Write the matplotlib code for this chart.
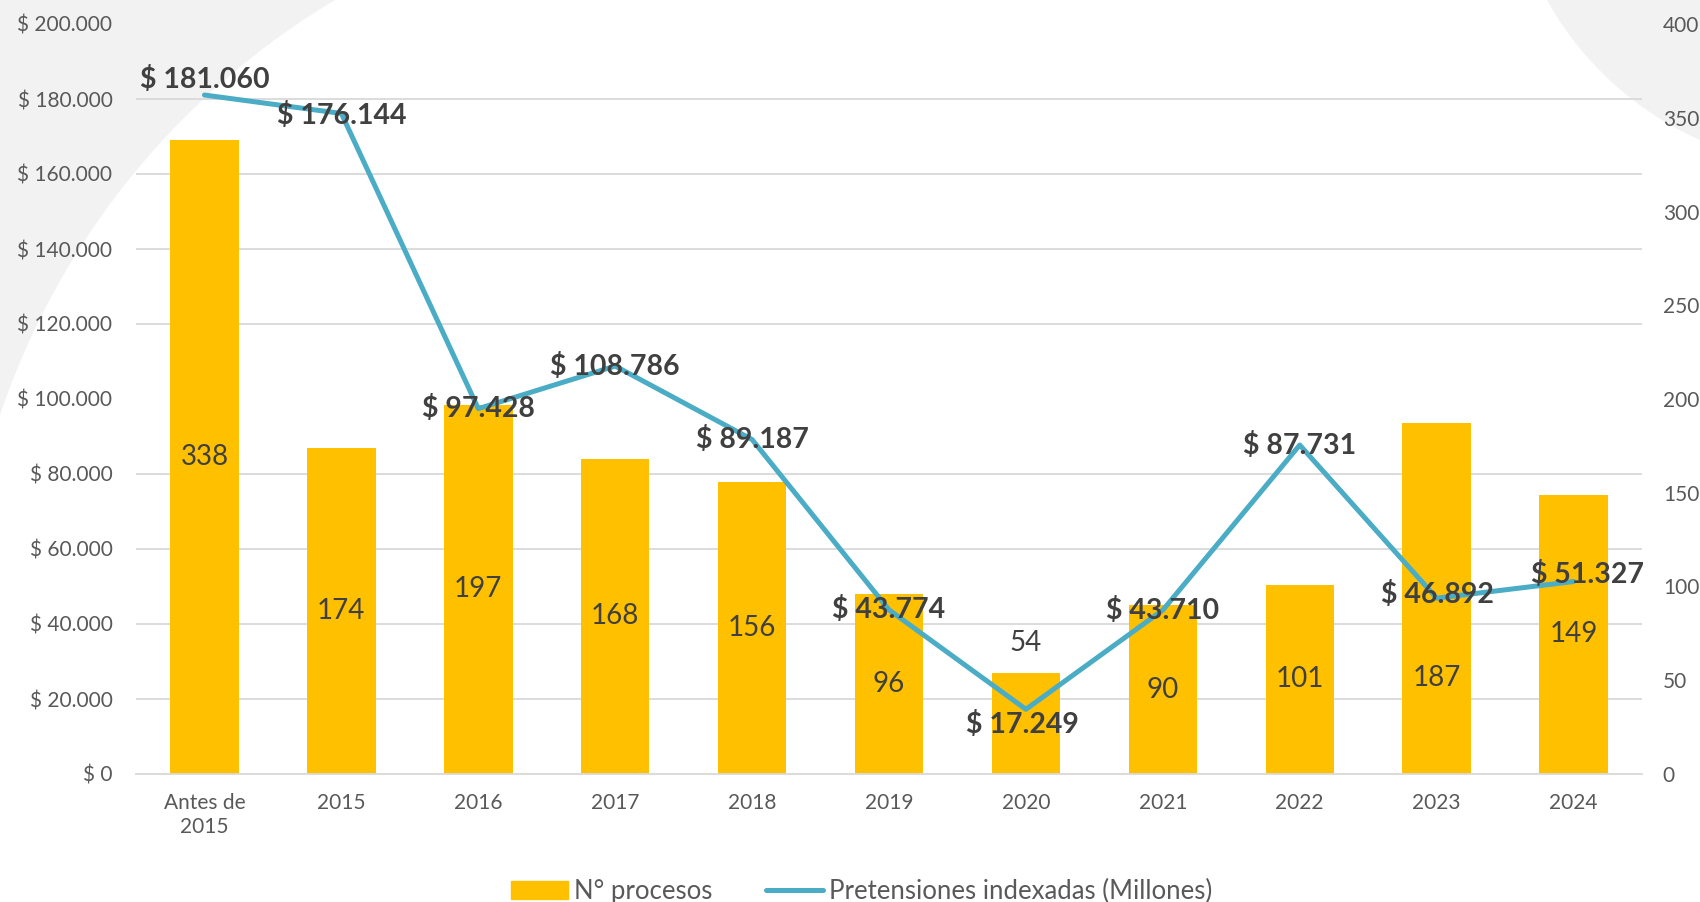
import numpy as np
import matplotlib.pyplot as plt
from matplotlib.patches import Polygon
from matplotlib.ticker import MultipleLocator, FuncFormatter

plt.rcParams['font.family'] = ['Lato', 'DejaVu Sans']

categories = ['Antes de\n2015', '2015', '2016', '2017', '2018', '2019',
              '2020', '2021', '2022', '2023', '2024']
procesos = [338, 174, 197, 168, 156, 96, 54, 90, 101, 187, 149]
pretensiones = [181060, 176144, 97428, 108786, 89187, 43774,
                17249, 43710, 87731, 46892, 51327]

BAR = '#ffc000'
LINE = '#4bacc6'
TXT = '#404040'
TICK = '#595959'
GRID = '#d9d9d9'
BG = '#f2f2f2'

W, H = 1700, 902
fig = plt.figure(figsize=(W / 100, H / 100), dpi=100)


def arc(p1, p2, p3, n=60):
    # circle arc through three pixel points, from p1 to p3
    (x1, y1), (x2, y2), (x3, y3) = p1, p2, p3
    a = np.array([[x2 - x1, y2 - y1], [x3 - x1, y3 - y1]], float)
    b = 0.5 * np.array([x2**2 - x1**2 + y2**2 - y1**2,
                        x3**2 - x1**2 + y3**2 - y1**2])
    cx, cy = np.linalg.solve(a, b)
    r = np.hypot(x1 - cx, y1 - cy)
    t1 = np.arctan2(y1 - cy, x1 - cx)
    t3 = np.arctan2(y3 - cy, x3 - cx)
    t = np.linspace(t1, t3, n)
    return list(zip(cx + r * np.cos(t), cy + r * np.sin(t)))


# decorative grey background shapes (pixel coords, y from top)
left_shape = [(0, 0)] + arc((335, 0), (113, 200), (0, 415))
right_shape = arc((1547, 0), (1633, 100), (1700, 140)) + [(1700, 0)]
for shp in (left_shape, right_shape):
    pts = [(px / W, 1 - py / H) for px, py in shp]
    fig.patches.append(Polygon(pts, closed=True, transform=fig.transFigure,
                               facecolor=BG, edgecolor='none', zorder=-5))

ax = fig.add_axes([136 / W, 1 - 774 / H, (1642 - 136) / W, (774 - 24) / H])
ax.patch.set_visible(False)
x = list(range(len(categories)))

# bars on the right-hand axis
ax.bar(x, procesos, width=0.5, color=BAR, zorder=2)
ax.set_ylim(0, 400)
ax.set_xlim(-0.5, len(categories) - 0.5)
ax.yaxis.set_major_locator(MultipleLocator(50))
ax.yaxis.set_minor_locator(MultipleLocator(40))
ax.grid(axis='y', which='minor', color=GRID, linewidth=1.3, zorder=0)
ax.set_xticks(x)
ax.set_xticklabels(categories)
ax.tick_params(axis='x', length=0, labelsize=15, labelcolor=TICK, pad=14)
for s in ax.spines.values():
    s.set_visible(False)
ax.spines['bottom'].set_visible(True)
ax.spines['bottom'].set_color(GRID)
ax.spines['bottom'].set_linewidth(1.3)

bar_offsets = {6: 30, 9: -79}
for i, v in enumerate(procesos):
    if i in bar_offsets:
        base = v if i == 6 else v / 2
        ax.annotate(str(v), (i, base), xytext=(0, bar_offsets[i]),
                    textcoords='offset pixels', ha='center', va='center',
                    fontsize=20, color=TXT, zorder=3)
    else:
        ax.text(i, v / 2, str(v), ha='center', va='center',
                fontsize=20, color=TXT, zorder=3)

# line on the left-hand axis
lax = ax.twinx()
lax.set_position(ax.get_position())
lax.plot(x, pretensiones, color=LINE, linewidth=3.6, solid_capstyle='round',
         solid_joinstyle='round', zorder=3)
lax.set_ylim(0, 200000)
lax.yaxis.tick_left()
lax.yaxis.set_major_locator(MultipleLocator(20000))
lax.yaxis.set_major_formatter(FuncFormatter(
    lambda v, p: '$ ' + f'{int(v):,}'.replace(',', '.')))
lax.tick_params(axis='y', length=0, labelsize=15, labelcolor=TICK, pad=17)
for s in lax.spines.values():
    s.set_visible(False)

ax.yaxis.tick_right()
ax.tick_params(axis='y', which='both', length=0, labelsize=15,
               labelcolor=TICK, pad=15, labelleft=False, labelright=True)

offsets = {0: (0, 16), 1: (0, -2), 6: (-3, -15), 9: (1, 4), 10: (14, 7)}
for i, v in enumerate(pretensiones):
    dx, dy = offsets.get(i, (0, 0))
    lax.annotate('$ ' + f'{v:,}'.replace(',', '.'), (i, v), xytext=(dx, dy),
                 textcoords='offset pixels', ha='center', va='center',
                 fontsize=20.5, fontweight='bold', color=TXT, zorder=5)

handles = [plt.Rectangle((0, 0), 1, 1, color=BAR),
           plt.Line2D([0], [0], color=LINE, linewidth=3.6, solid_capstyle='round')]
fig.legend(handles, ['N° procesos', 'Pretensiones indexadas (Millones)'],
           loc='center', bbox_to_anchor=(0.507, 0.012), ncol=2, frameon=False,
           fontsize=18.5, labelcolor=TICK, handlelength=2.2, handleheight=0.7,
           handletextpad=0.25, columnspacing=2.1)

fig.savefig('out.png', dpi=100)
